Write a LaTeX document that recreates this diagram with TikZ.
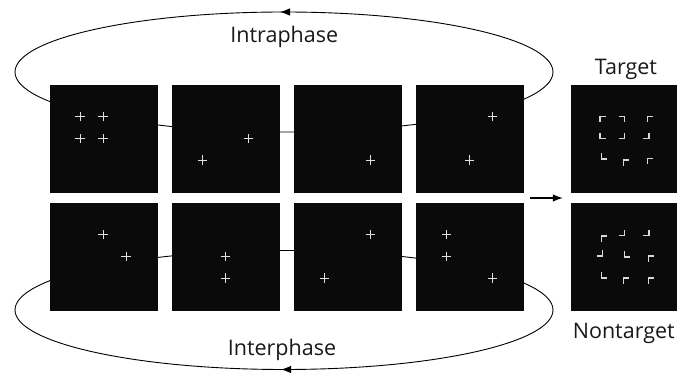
\documentclass[tikz,border=0pt]{standalone}
\usepackage{fontspec}
\setmainfont{Open Sans}
\usepackage{tikz}
\usetikzlibrary{positioning,arrows.meta,calc,decorations.markings}
\tikzset{
    panel/.style = {
        shape=rectangle,
        fill=black!96,
        inner sep=0pt,
        minimum height=108pt,
        minimum width=108pt
    },
    caption/.style = {
        anchor=base,
        inner sep=0pt,
        text=black!90,
        font=\fontsize{21.5}{25}\selectfont
    },
    loop/.style = {
        draw,
        line width=0.9pt,
        postaction={decorate}
    },
    cross/.pic = {
        \draw[white!88!black, line width=1pt] (-4.7,0) -- (4.7,0) (0,-4.7) -- (0,4.7);
    },
    corner/.pic = {
        \draw[white!85!black, line width=1.3pt, line cap=rect] (5,0) -- (0,0) -- (0,5);
    },
    >={Latex[length=10pt,width=7.5pt]},
}

\begin{document}
\begin{tikzpicture}[x=1pt,y=1pt]
    \useasboundingbox (0,0) rectangle (677,377);

    % loops behind the panels
    \path[loop, decoration={markings, mark=at position 0.2535 with {\arrow{>}}}]
        (284,305) ellipse [x radius=269, y radius=60];
    \path[loop, decoration={markings, mark=at position 0.7474 with {\arrowreversed{>}}}]
        (284,67) ellipse [x radius=269, y radius=59.5];

    % search panels
    \node[panel] (p1) at (103.5,238) {};
    \node[panel] (p2) at (225.7,238) {};
    \node[panel] (p3) at (347.9,238) {};
    \node[panel] (p4) at (470.1,238) {};
    \node[panel] (p5) at (103.5,120) {};
    \node[panel] (p6) at (225.7,120) {};
    \node[panel] (p7) at (347.9,120) {};
    \node[panel] (p8) at (470.1,120) {};
    \node[panel, minimum width=106pt] (target) at (624,238) {};
    \node[panel, minimum width=106pt] (nontarget) at (624,120) {};

    % crosses on a 3x3 grid
    \foreach \p/\i/\j in {p1/-1/1, p1/0/1, p1/-1/0, p1/0/0,
                          p2/1/0, p2/-1/-1,
                          p3/1/-1,
                          p4/1/1, p4/0/-1,
                          p5/0/1, p5/1/0,
                          p6/0/0, p6/0/-1,
                          p7/-1/-1, p7/1/1,
                          p8/-1/1, p8/-1/0, p8/1/-1}
        \pic at ([shift={(23*\i-0.5,21.7*\j+0.6)}]\p.center) {cross};

    % corner elements
    \foreach \dx/\dy/\r in {-24/22.3/270, 0.3/22.3/180, 23.7/22.3/270,
                            -24/0.7/0, 0.3/0.7/90, 25/0.7/90,
                            -22.3/-20/0, -0.7/-21/270, 23.7/-19.3/270}
        \pic[rotate=\r] at ([shift={(\dx,\dy)}]target.center) {corner};
    \foreach \dx/\dy/\r in {-22.3/21/270, 0.3/21.7/90, 25/21.7/90,
                            -21.3/1/90, 0.3/0/0, 24.3/1/270,
                            -22.3/-21/0, -0.7/-21/270, 24.3/-21/270}
        \pic[rotate=\r] at ([shift={(\dx,\dy)}]nontarget.center) {corner};

    % labels
    \node[caption] (intra) at (284.3,334.3) {Intraphase};
    \node[caption] (inter) at (282,21.3) {Interphase};
    \node[caption] (tlabel) at (626,302) {Target};
    \node[caption] (nlabel) at (623.8,38.3) {Nontarget};

    % decision arrow
    \coordinate (gapL) at ($(p4.south east)!0.5!(p8.north east)+(6,0)$);
    \coordinate (gapR) at ($(target.south west)!0.5!(nontarget.north west)+(-8,0)$);
    \draw[->, line width=1.2pt] (gapL) -- (gapR);
\end{tikzpicture}
\end{document}
